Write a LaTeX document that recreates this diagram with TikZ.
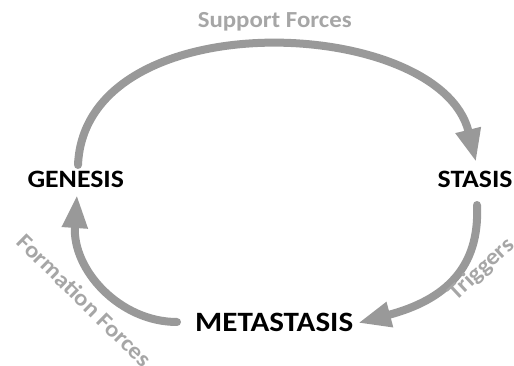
\documentclass[tikz,border=0pt]{standalone}
\usepackage{fontspec}
\setmainfont{Carlito}
\usetikzlibrary{arrows.meta}
\definecolor{flow}{HTML}{999999}
\definecolor{flowtext}{HTML}{A6A6A6}
\tikzset{
  stage/.style={font=\bfseries\fontsize{25}{29}\selectfont, text=black, inner sep=0pt, xscale=1.11},
  bigstage/.style={stage, font=\bfseries\fontsize{28}{32}\selectfont},
  force/.style={font=\bfseries\fontsize{23}{27}\selectfont, text=flowtext, inner sep=0pt},
  cycle/.style={draw=flow, line width=8pt, line cap=round,
    -{Triangle[length=33pt,width=24pt]}},
}
\begin{document}
\begin{tikzpicture}[x=1pt,y=-1pt]
  \useasboundingbox (0,0) rectangle (514,366);
  % stages of the cycle
  \node[stage, anchor=base] (gen) at (75.7,188) {GENESIS};
  \node[stage, anchor=base west] (sta) at (437.5,188) {STASIS};
  \node[bigstage, anchor=base west] (met) at (195,331.5) {METASTASIS};
  % curve anchors
  \coordinate (g1) at (78,165);
  \coordinate (s1) at (476,162);
  \coordinate (s2) at (477,205);
  \coordinate (m1) at (358,323);
  \coordinate (m2) at (177,322);
  \coordinate (g2) at (77,195);
  % connectors
  \draw[cycle] (g1) .. controls (85,0) and (440,15) .. (s1);
  \draw[cycle] (s2) .. controls (480,268) and (445,300) .. (m1);
  \draw[cycle] (m2) .. controls (120,322) and (72,270) .. (g2);
  % labels on the connectors
  \node[force, anchor=base, xscale=1.08] (sup) at (274.7,28) {Support Forces};
  \node[force, anchor=base, rotate=43, xscale=1.08] (trg) at (486,274) {Triggers};
  \node[force, anchor=base, rotate=-44.5, xscale=1.08] (frm) at (79,306) {Formation Forces};
\end{tikzpicture}
\end{document}
